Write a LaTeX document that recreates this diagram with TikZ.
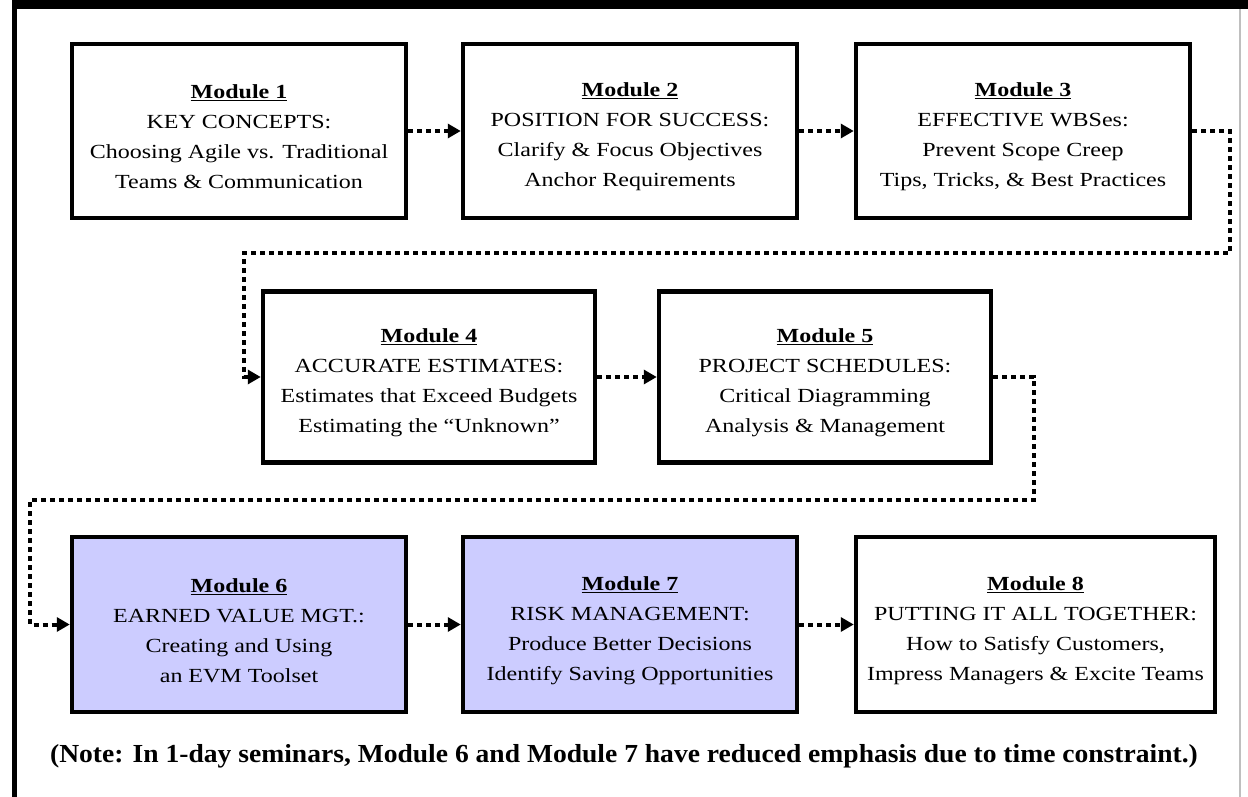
\documentclass[tikz,border=0pt]{standalone}
\usepackage{fontspec}
\setmainfont{Liberation Serif}
\newfontfamily\boxfont[FakeStretch=1.2]{Liberation Serif}
\newfontfamily\notefont[FakeStretch=1.06]{Liberation Serif}
\usetikzlibrary{arrows.meta}
\definecolor{lavender}{RGB}{204,204,255}
% title line of a module box (the strut pushes the text a bit down)
\newcommand{\modtitle}[1]{\rule{0pt}{26pt}\underline{\textbf{Module #1}}}
\tikzset{
  modbox/.style={draw, line width=4.5pt, minimum width=334pt, minimum height=174pt,
    inner sep=0pt, align=center, font=\boxfont\fontsize{20}{30}\selectfont},
  flow/.style={line width=4pt, dash pattern=on 5pt off 4pt,
    -{Triangle[length=13pt,width=14pt]}},
}
\begin{document}
\begin{tikzpicture}[x=1pt,y=-1pt]
  \useasboundingbox (0,0) rectangle (1248,797);
  % outer frame
  \draw[line width=9pt] (12,4.5) -- (1248,4.5);
  \draw[line width=5pt] (14.5,0) -- (14.5,797);
  \draw[black!25, line width=1.5pt] (1240,9) -- (1240,797);

  % first row
  \node[modbox] (m1) at (239,131) {\modtitle{1}\\KEY CONCEPTS:\\Choosing Agile vs. Traditional\\Teams \& Communication};
  \node[modbox] (m2) at (630,131) {\modtitle{2}\\POSITION FOR SUCCESS:\\Clarify \& Focus Objectives\\Anchor Requirements};
  \node[modbox] (m3) at (1023,131) {\modtitle{3}\\EFFECTIVE WBSes:\\Prevent Scope Creep\\Tips, Tricks, \& Best Practices};

  % second row
  \node[modbox, minimum width=332pt, minimum height=171pt] (m4) at (429,377) {\modtitle{4}\\ACCURATE ESTIMATES:\\Estimates that Exceed Budgets\\Estimating the “Unknown”};
  \node[modbox, minimum width=332pt, minimum height=171pt] (m5) at (825,377) {\modtitle{5}\\PROJECT SCHEDULES:\\Critical Diagramming\\Analysis \& Management};

  % third row (6 and 7 shaded)
  \node[modbox, fill=lavender, minimum height=175pt] (m6) at (239,624.5) {\modtitle{6}\\EARNED VALUE MGT.:\\Creating and Using\\an EVM Toolset};
  \node[modbox, fill=lavender, minimum height=175pt] (m7) at (630,624.5) {\modtitle{7}\\RISK MANAGEMENT:\\Produce Better Decisions\\Identify Saving Opportunities};
  \node[modbox, minimum width=359pt, minimum height=175pt] (m8) at (1035.5,624.5) {\modtitle{8}\\PUTTING IT ALL TOGETHER:\\How to Satisfy Customers,\\Impress Managers \& Excite Teams};

  % note
  \node[font=\notefont\bfseries\fontsize{26}{30}\selectfont] (note) at (624,756) {(Note: In 1-day seminars, Module 6 and Module 7 have reduced emphasis due to time constraint.)};

  % turning points of the long connectors
  \coordinate (r1) at (1230,253);
  \coordinate (l1) at (244,253);
  \coordinate (r2) at (1034,500);
  \coordinate (l2) at (30,500);

  % connectors
  \draw[flow] (m1) -- (m2);
  \draw[flow] (m2) -- (m3);
  \draw[flow] (m3.east) -| (r1) -- (l1) |- (m4.west);
  \draw[flow] (m4) -- (m5);
  \draw[flow] (m5.east) -| (r2) -- (l2) |- (m6.west);
  \draw[flow] (m6) -- (m7);
  \draw[flow] (m7) -- (m8);
\end{tikzpicture}
\end{document}
